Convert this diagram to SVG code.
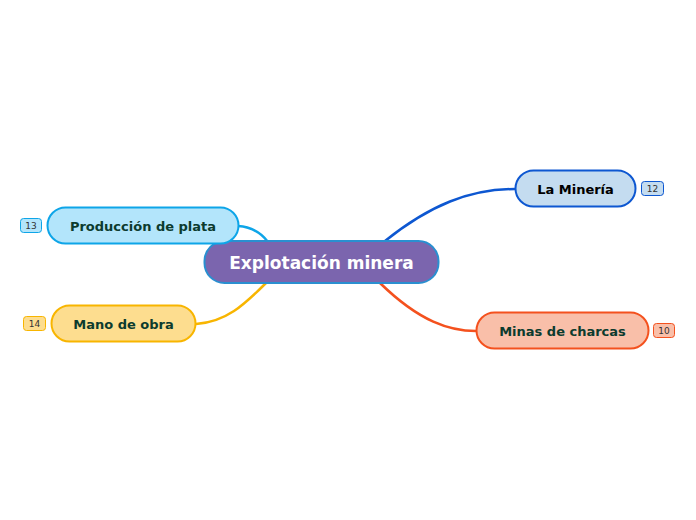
<svg xmlns="http://www.w3.org/2000/svg" width="696" height="520" viewBox="0 0 696 520">
<style>
.t{font-family:"DejaVu Sans",Verdana,sans-serif;font-weight:bold;text-anchor:middle;dominant-baseline:central}
.b{font-family:"DejaVu Sans",Verdana,sans-serif;font-size:9px;text-anchor:middle;dominant-baseline:central;fill:#333}
.c{fill:none;stroke-width:2.5;stroke-linecap:round}
</style>
<rect width="696" height="520" fill="#fff"/>
<g id="connectors">
<path class="c" d="M385,241 C430,205 470,189 515,189" stroke="#0d57d1"/>
<path class="c" d="M380,283 C420,322 450,331 476,331" stroke="#f4511e"/>
<path class="c" d="M238,226 C252,227 262,234 268,242" stroke="#0ea5e8"/>
<path class="c" d="M196,324 C226,322 244,305 266,283" stroke="#f8b500"/>
</g>
<g id="central">
<rect x="204.5" y="241" width="234" height="42" rx="20" fill="#7b65ae" stroke="#2a8fd0" stroke-width="2"/>
<text class="t" x="321.5" y="263" font-size="17" fill="#fff">Explotación minera</text>
</g>
<g id="produccion">
<rect x="47.5" y="207.5" width="191" height="36" rx="18" fill="#b3e5fb" stroke="#0ea5e8" stroke-width="2"/>
<text class="t" x="143" y="226" font-size="13" fill="#0c3b2e">Producción de plata</text>
<rect x="20.5" y="218.5" width="21" height="14" rx="3" fill="#b3e5fb" stroke="#0ea5e8"/>
<text class="b" x="31" y="226">13</text>
</g>
<g id="mano">
<rect x="51.5" y="305.5" width="144" height="36" rx="18" fill="#fddd8f" stroke="#f8b500" stroke-width="2"/>
<text class="t" x="123.5" y="324" font-size="13" fill="#0c3b2e">Mano de obra</text>
<rect x="23.5" y="316.5" width="22" height="14" rx="3" fill="#fddd8f" stroke="#f8b500"/>
<text class="b" x="34.5" y="324">14</text>
</g>
<g id="mineria">
<rect x="515.5" y="170.5" width="120" height="36" rx="18" fill="#c4dcf0" stroke="#0d57d1" stroke-width="2"/>
<text class="t" x="575.5" y="189" font-size="13" fill="#000">La Minería</text>
<rect x="641.5" y="181.5" width="22" height="14" rx="3" fill="#c4dcf0" stroke="#0d57d1"/>
<text class="b" x="652.5" y="189">12</text>
</g>
<g id="charcas">
<rect x="476.5" y="312.5" width="172" height="36" rx="18" fill="#f9bfa9" stroke="#f4511e" stroke-width="2"/>
<text class="t" x="562.5" y="331" font-size="13" fill="#0c3b2e">Minas de charcas</text>
<rect x="653.5" y="323.5" width="21" height="14" rx="3" fill="#f9bfa9" stroke="#f4511e"/>
<text class="b" x="664" y="331">10</text>
</g>
</svg>
